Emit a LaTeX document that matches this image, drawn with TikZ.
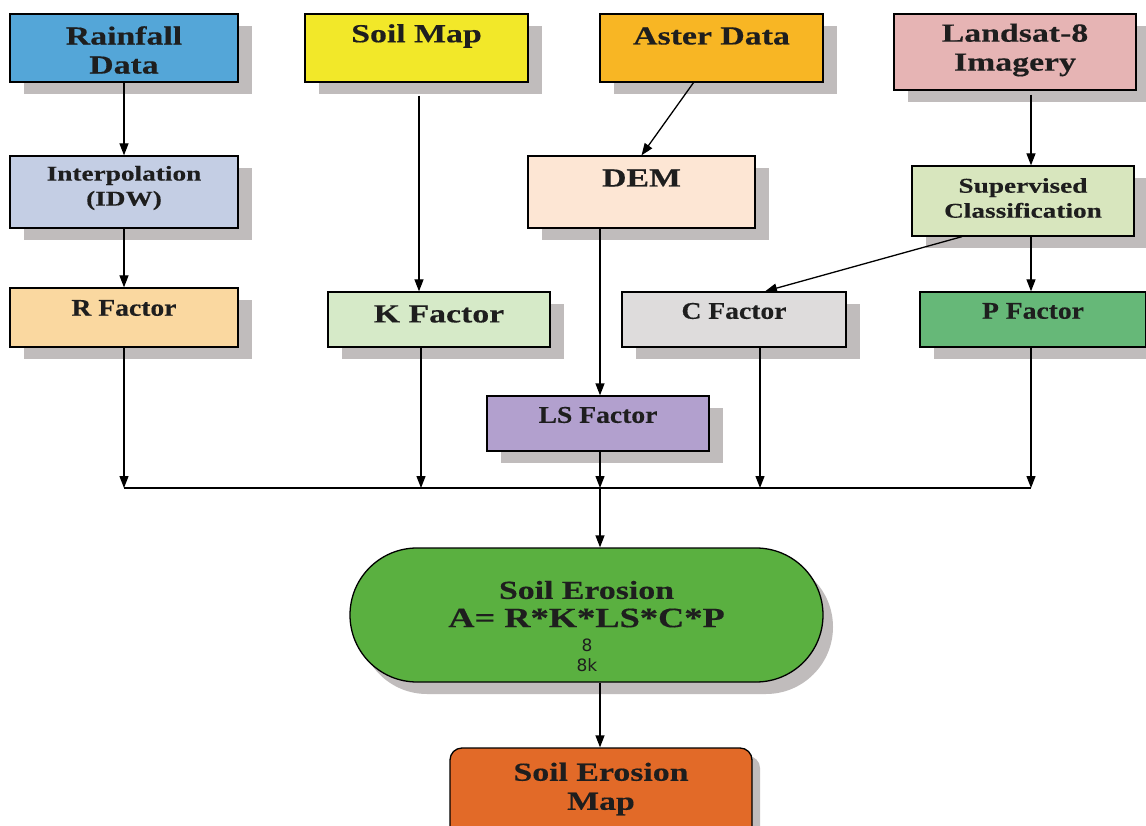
\documentclass[tikz,border=0pt]{standalone}
\usepackage{fontspec}
\setmainfont{Liberation Serif}[FakeStretch=1.3,BoldFeatures={FakeBold=0.4}]
\newfontfamily\condf{Liberation Serif}[FakeStretch=1.15,BoldFeatures={FakeBold=0.4}]
\newfontfamily\sansf{DejaVu Sans}
\usetikzlibrary{arrows.meta}
\definecolor{shadowgray}{RGB}{192,188,188}
\definecolor{cRain}{RGB}{84,166,216}
\definecolor{cSoil}{RGB}{242,232,41}
\definecolor{cAster}{RGB}{248,182,36}
\definecolor{cLand}{RGB}{230,180,180}
\definecolor{cInterp}{RGB}{196,206,228}
\definecolor{cDem}{RGB}{253,230,212}
\definecolor{cSup}{RGB}{216,230,190}
\definecolor{cR}{RGB}{250,216,160}
\definecolor{cK}{RGB}{214,234,200}
\definecolor{cC}{RGB}{222,220,220}
\definecolor{cP}{RGB}{102,184,120}
\definecolor{cLS}{RGB}{178,160,206}
\definecolor{cEro}{RGB}{90,176,64}
\definecolor{cMap}{RGB}{226,106,40}
\definecolor{txt}{RGB}{30,30,30}
\newcommand{\mybox}[7][]{%
  \fill[shadowgray,#1] (#3+14,#4+12) rectangle (#5+14,#6+12);
  \node[box,fill=#7,minimum width=#5-#3,minimum height=#6-#4,#1] (#2) at ({(#3+#5)/2},{(#4+#6)/2}) {};
}
\begin{document}
\begin{tikzpicture}[x=1pt,y=-1pt,
  box/.style={draw=black,line width=1.3pt,inner sep=0pt},
  lbl/.style={font=\fontsize{26}{29}\selectfont\bfseries,align=center,inner sep=0pt,text=txt},
  slbl/.style={font=\fontsize{21}{25}\selectfont\bfseries,align=center,inner sep=0pt,text=txt},
  clbl/.style={font=\condf\fontsize{24}{28}\selectfont\bfseries,align=center,inner sep=0pt,text=txt},
  arr/.style={line width=1.3pt,-{Triangle[length=12pt,width=9pt]}},
  ln/.style={line width=1.3pt}]
\useasboundingbox (0,0) rectangle (1146,826);
\fill[white] (0,0) rectangle (1146,826);
% top row
\mybox{rain}{10}{14}{238}{82}{cRain}
\mybox{soil}{305}{14}{528}{82}{cSoil}
\mybox{aster}{600}{14}{823}{82}{cAster}
\mybox{land}{894}{14}{1136}{90}{cLand}
% second row
\mybox{interp}{10}{156}{238}{228}{cInterp}
\mybox{dem}{528}{156}{755}{228}{cDem}
\mybox{sup}{912}{166}{1134}{236}{cSup}
% factors
\mybox{rf}{10}{288}{238}{347}{cR}
\mybox{kf}{328}{292}{550}{347}{cK}
\mybox{cf}{622}{292}{846}{347}{cC}
\mybox{pf}{920}{292}{1146}{347}{cP}
\mybox{ls}{487}{396}{709}{451}{cLS}
% soil erosion (stadium)
\fill[shadowgray,rounded corners=67pt] (360,560) rectangle (833,694);
\node[box,fill=cEro,rounded corners=67pt,minimum width=473,minimum height=134] (ero) at (586.5,615) {};
% map
\fill[shadowgray,rounded corners=12pt] (458,756) rectangle (760,850);
\node[box,fill=cMap,rounded corners=12pt,minimum width=302,minimum height=96] (map) at (601,796) {};
% labels
\node[lbl] (train) at (124,50) {Rainfall\\Data};
\node[lbl] (tsoil) at (416.5,36) {Soil Map};
\node[lbl] (taster) at (711.5,36) {Aster Data};
\node[lbl] (tland) at (1015,50) {Landsat-8\\Imagery};
\node[slbl] (tinterp) at (124,188) {Interpolation\\(IDW)};
\node[lbl] (tdem) at (641.5,178) {DEM};
\node[slbl] (tsup) at (1023,198) {Supervised\\Classification};
\node[clbl] (trf) at (124,308) {R Factor};
\node[lbl] (tkf) at (439,314) {K Factor};
\node[clbl] (tcf) at (734,311) {C Factor};
\node[clbl] (tpf) at (1033,311) {P Factor};
\node[clbl] (tls) at (598,415) {LS Factor};
\node[lbl] (tero1) at (586.5,590) {Soil Erosion};
\node[lbl,font=\fontsize{28}{30}\selectfont\bfseries] (tero2) at (586.5,618) {A= R*K*LS*C*P};
\node[inner sep=0pt,text=txt,font=\sansf\fontsize{17}{20}\selectfont] (tero3) at (587,645) {8};
\node[inner sep=0pt,text=txt,font=\sansf\fontsize{17}{20}\selectfont] (tero4) at (587,665) {8k};
\node[lbl] (tmap) at (601,789) {Soil Erosion\\Map};
% bus coordinates
\coordinate (bR) at (124,488);
\coordinate (bK) at (421,488);
\coordinate (bL) at (600,488);
\coordinate (bC) at (760,488);
\coordinate (bP) at (1031,488);
\coordinate (sK) at (419,0);
% connectors
\draw[arr] (rain) -- (interp);
\draw[arr] (interp) -- (rf);
\draw[arr] ([yshift=-13pt]soil.south -| sK) -- (kf.north -| sK);
\draw[arr] ([xshift=-18pt]aster.south) -- (dem.north);
\draw[arr] ([yshift=-4pt]land.south -| bP) -- (sup.north -| bP);
\draw[arr] ([xshift=-61pt]sup.south) -- ([xshift=31pt]cf.north);
\draw[arr] (sup.south -| bP) -- (pf.north -| bP);
\draw[arr] (dem.south -| bL) -- (ls.north -| bL);
\draw[ln] (bR) -- (bP);
\draw[arr] (rf) -- (bR);
\draw[arr] (kf.south -| bK) -- (bK);
\draw[arr] (ls.south -| bL) -- (bL);
\draw[arr] (cf.south -| bC) -- (bC);
\draw[arr] (pf.south -| bP) -- (bP);
\draw[arr] (bL) -- (ero.north -| bL);
\draw[arr] (ero.south -| bL) -- (map.north -| bL);
\end{tikzpicture}
\end{document}
